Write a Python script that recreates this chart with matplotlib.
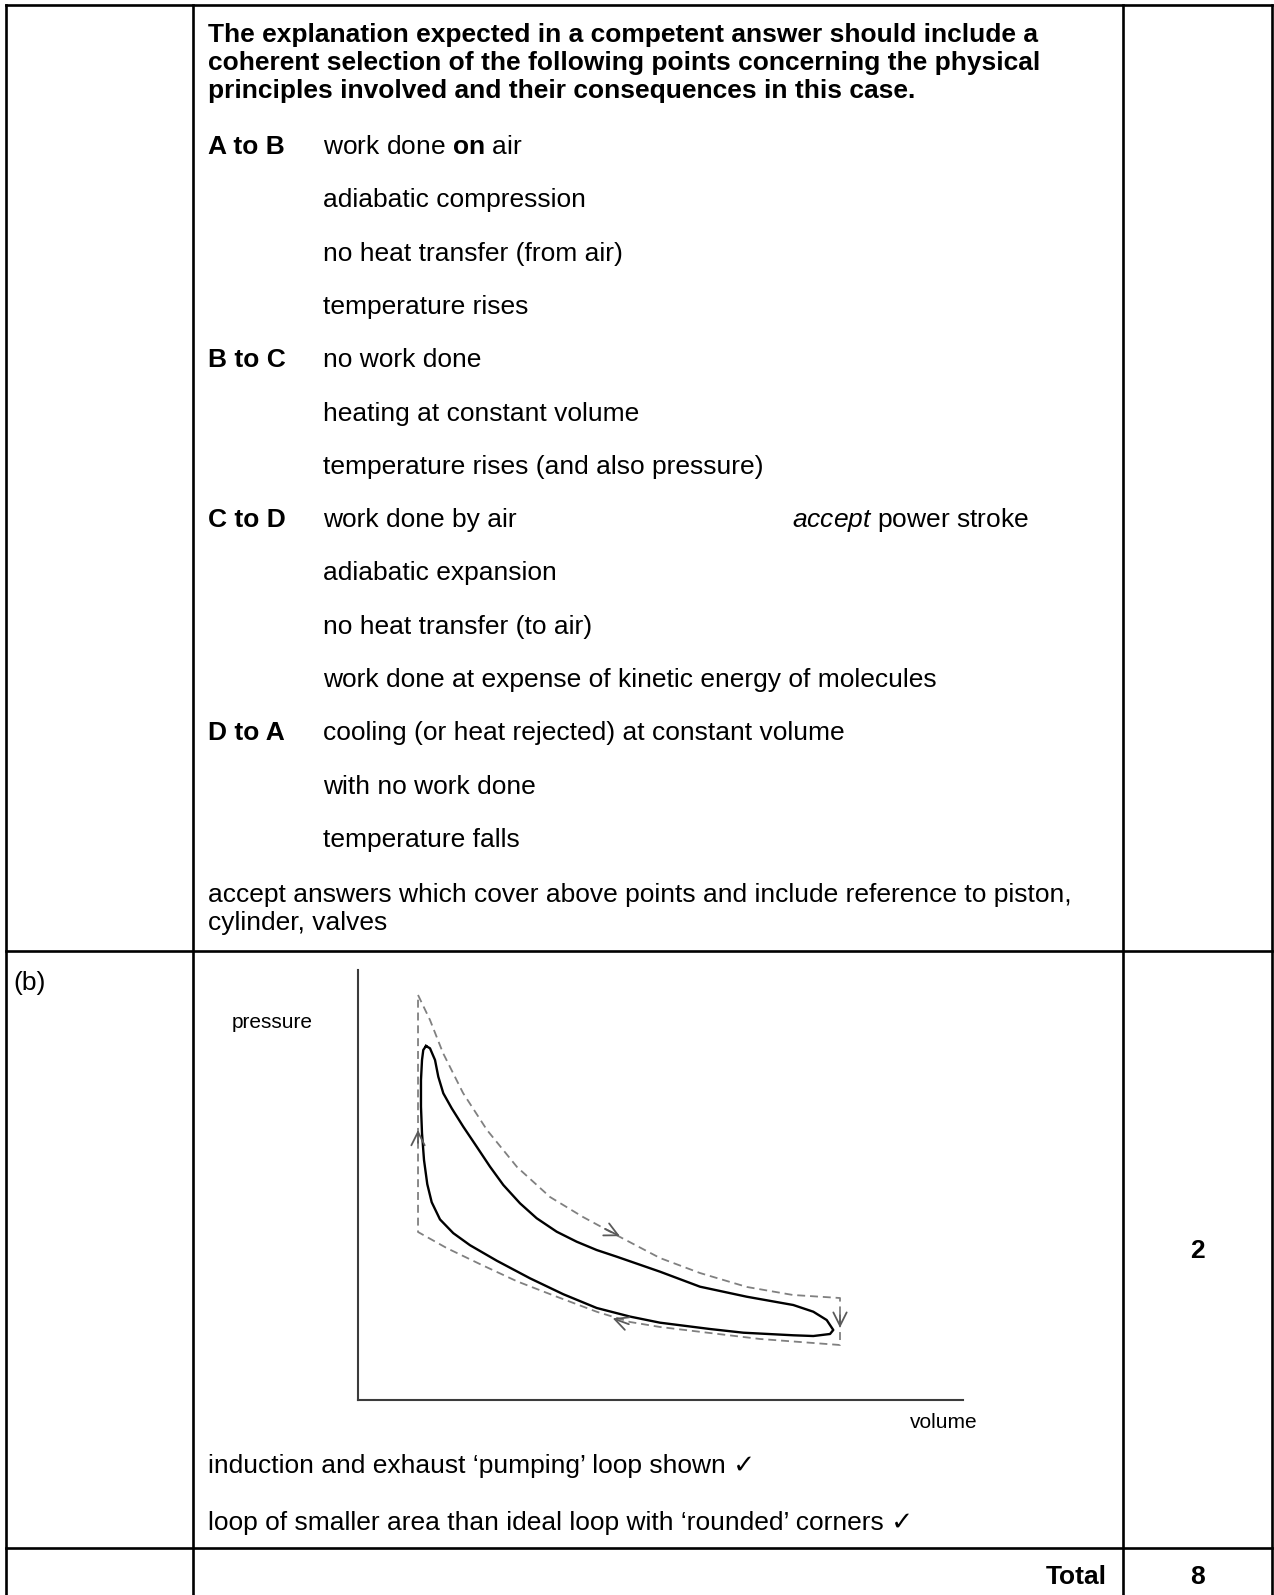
import numpy as np
import matplotlib.pyplot as plt

plt.rcParams['font.family'] = ['Liberation Sans', 'DejaVu Sans']
plt.rcParams['mathtext.fontset'] = 'custom'
plt.rcParams['mathtext.rm'] = 'Liberation Sans'
plt.rcParams['mathtext.bf'] = 'Liberation Sans:bold'
plt.rcParams['mathtext.it'] = 'Liberation Sans:italic'

# ---- text content ----
heading = [
    "The explanation expected in a competent answer should include a",
    "coherent selection of the following points concerning the physical",
    "principles involved and their consequences in this case.",
]
stages = ["A to B", "B to C", "C to D", "D to A"]
stage_notes = [
    ["work done $\\mathbf{on}$ air", "adiabatic compression",
     "no heat transfer (from air)", "temperature rises"],
    ["no work done", "heating at constant volume",
     "temperature rises (and also pressure)"],
    ["work done by air", "adiabatic expansion", "no heat transfer (to air)",
     "work done at expense of kinetic energy of molecules"],
    ["cooling (or heat rejected) at constant volume", "with no work done",
     "temperature falls"],
]
side_note = "$\\mathit{accept}$ power stroke"
accept_lines = [
    "accept answers which cover above points and include reference to piston,",
    "cylinder, valves",
]
part_label = "(b)"
b_marks = [
    "induction and exhaust \u2018pumping\u2019 loop shown \u2713",
    "loop of smaller area than ideal loop with \u2018rounded\u2019 corners \u2713",
]
b_score = "2"
total_label = "Total"
total_score = "8"

# ---- p-V sketch (arbitrary units) ----
# ideal cycle: C -> D expansion, D -> A, A -> B compression, B -> C
ideal_v = [9.92, 11.90, 14.05, 17.36, 21.32, 26.28, 31.74, 37.19, 43.31, 49.92, 56.53,
           64.30, 71.90, 79.67,
           79.67,
           66.45, 58.18, 49.92, 44.96, 39.50, 32.89, 26.28, 20.17, 14.71, 9.92,
           9.92]
ideal_p = [94.19, 88.37, 80.70, 71.40, 62.79, 54.19, 47.21, 42.56, 37.91, 33.02, 29.53,
           26.28, 24.42, 23.72,
           12.79,
           14.19, 15.58, 16.98, 18.14, 20.5, 24.0, 27.6, 31.6, 35.3, 39.07,
           94.19]
# real engine loop with rounded corners
real_v = [11.24, 11.90, 12.73, 13.27, 14.10, 15.49, 17.40, 19.62, 21.82, 24.02, 26.78,
          29.54, 32.84, 36.15, 39.45, 42.76, 49.92, 56.53, 64.25, 71.95, 75.26, 77.47,
          78.56, 78.02, 75.26, 71.95, 63.69, 58.18, 49.92, 44.96, 39.45, 33.93, 28.43,
          22.93, 18.51, 15.75, 13.55, 12.18, 11.45, 10.91, 10.58, 10.41, 10.41, 10.58,
          10.79, 11.24]
real_p = [82.33, 81.79, 79.07, 75.19, 71.33, 67.84, 63.56, 58.91, 54.26, 50.00, 45.74,
          42.26, 39.14, 36.81, 34.88, 33.33, 29.84, 26.35, 24.02, 22.09, 20.53, 18.60,
          16.28, 15.35, 14.88, 15.05, 15.65, 16.51, 17.98, 19.4, 21.4, 24.6, 28.3,
          32.4, 36.0, 38.8, 42.0, 46.0, 50.2, 55.81, 62.02, 68.21, 74.42, 79.07,
          81.40, 82.33]
# direction arrows on the ideal cycle: tip position and direction
arrow_v = [9.92, 43.3, 79.67, 42.1]
arrow_p = [62.8, 38.1, 16.8, 19.0]
arrow_dv = [0.0, 6.1, 0.0, -5.45]
arrow_dp = [1.0, -4.2, -1.0, 2.8]

W, H = 1274, 1595
fig = plt.figure(figsize=(W / 100, H / 100), dpi=100)
ax = fig.add_axes([0, 0, 1, 1])
ax.set_xlim(0, W)
ax.set_ylim(H, 0)
ax.axis('off')

FS = 19
ink = '#000000'

# table grid (bottom edge runs off the page)
x_left, x_col1, x_col2, x_right = 6, 193, 1123, 1272
y_top, y_row1, y_row2, y_bot = 5, 951, 1548, 1605
lw_grid = 1.9
for y in [y_top, y_row1, y_row2]:
    ax.plot([x_left, x_right], [y, y], color=ink, lw=lw_grid, solid_capstyle='projecting')
for x in [x_left, x_col1, x_col2, x_right]:
    ax.plot([x, x], [y_top, y_bot], color=ink, lw=lw_grid, solid_capstyle='projecting')

# first row text
tx, nx = 208, 323
for i, line in enumerate(heading):
    ax.text(tx, 35 + 28 * i, line, fontsize=FS, fontweight='bold', va='center', ha='left')

row = 0
step = 53.3
for stage, notes in zip(stages, stage_notes):
    y0 = 147 + step * row
    ax.text(tx, y0, stage, fontsize=FS, fontweight='bold', va='center')
    for note in notes:
        ax.text(nx, 147 + step * row, note, fontsize=FS, va='center')
        row += 1
    if stage == "C to D":
        ax.text(792, y0, side_note, fontsize=FS, va='center')

for i, line in enumerate(accept_lines):
    ax.text(tx, 895 + 28 * i, line, fontsize=FS, va='center')

# part (b)
ax.text(13, 983, part_label, fontsize=FS, va='center')
ax.text(232, 1023, "pressure", fontsize=15, va='center')
ax.text(910, 1423, "volume", fontsize=15, va='center')
for i, line in enumerate(b_marks):
    ax.text(tx, 1466 + 57 * i, line, fontsize=FS, va='center')
ax.text((x_col2 + x_right) / 2, 1251, b_score, fontsize=FS, fontweight='bold',
        ha='center', va='center')

# total row
ax.text(1107, 1577, total_label, fontsize=FS, fontweight='bold', ha='right', va='center')
ax.text((x_col2 + x_right) / 2, 1577, total_score, fontsize=FS, fontweight='bold',
        ha='center', va='center')

# p-V sketch axes
px0, px1, py0, py1 = 358, 963, 1400, 970
pv = fig.add_axes([px0 / W, (H - py0) / H, (px1 - px0) / W, (py0 - py1) / H])
pv.set_facecolor('none')
pv.set_xlim(0, 100)
pv.set_ylim(0, 100)
pv.set_xticks([])
pv.set_yticks([])
for s in ['top', 'right']:
    pv.spines[s].set_visible(False)
for s in ['left', 'bottom']:
    pv.spines[s].set_color('#3c3c3c')
    pv.spines[s].set_linewidth(1.5)

gray = '#808080'
pv.plot(ideal_v, ideal_p, color=gray, lw=1.3, linestyle=(0, (4.4, 2.7)),
        solid_joinstyle='miter', clip_on=False)
pv.plot(real_v, real_p, color='black', lw=1.7, solid_joinstyle='round', clip_on=False)

for v, p, dv, dp in zip(arrow_v, arrow_p, arrow_dv, arrow_dp):
    n = np.hypot(dv, dp)
    pv.annotate('', xy=(v, p), xytext=(v - 3.0 * dv / n, p - 3.0 * dp / n),
                arrowprops=dict(arrowstyle='->', color='#5a5a5a', lw=1.3,
                                mutation_scale=24, shrinkA=0, shrinkB=0))

fig.savefig('out.png', dpi=100, facecolor='white')
